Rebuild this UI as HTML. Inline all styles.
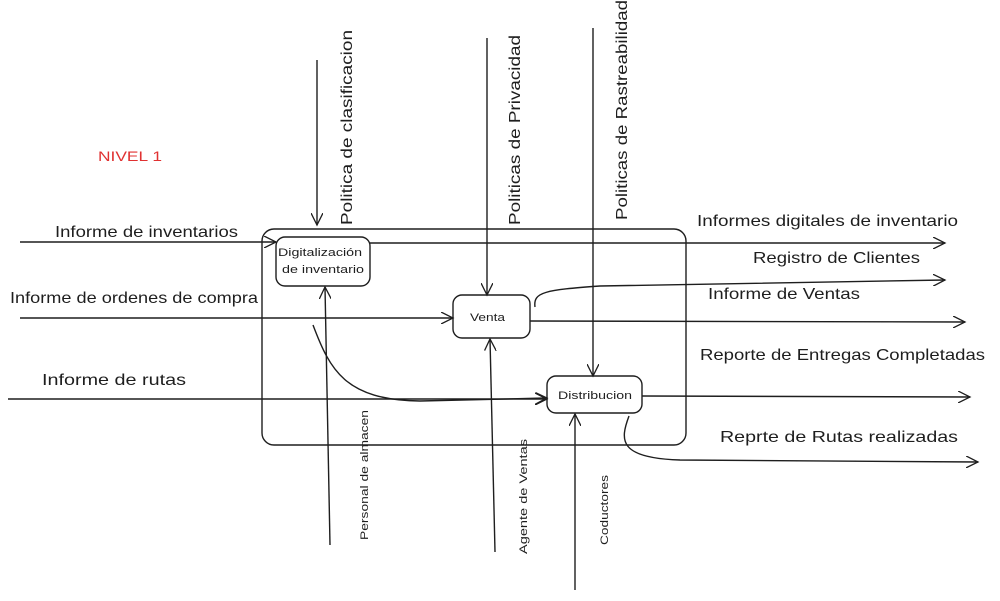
<!DOCTYPE html>
<html><head><meta charset="utf-8"><style>
html,body{margin:0;padding:0;background:#fff;}
svg text{font-family:"Liberation Sans",sans-serif;fill:#1e1e1e;}
</style></head><body>
<svg width="1000" height="596" viewBox="0 0 1000 596" xmlns="http://www.w3.org/2000/svg">
<defs>
<marker id="a" markerWidth="14" markerHeight="12" refX="12" refY="6" orient="auto" markerUnits="userSpaceOnUse">
<path d="M0,0 L12,6 L0,12" fill="none" stroke="#1e1e1e" stroke-width="1.3"/>
</marker>
</defs>
<g fill="none" stroke="#1e1e1e" stroke-width="1.4">
<rect x="262" y="229" width="424" height="216" rx="12"/>
<rect x="276" y="237" width="94" height="49" rx="9"/>
<rect x="453" y="295" width="77" height="43" rx="9"/>
<rect x="547" y="376" width="95" height="37" rx="9"/>
<path d="M20,242 L276,242" marker-end="url(#a)"/>
<path d="M370,243 L945,243" marker-end="url(#a)"/>
<path d="M535,307 C533,292 545,290 600,286 L945,280" marker-end="url(#a)"/>
<path d="M530,321 L965,322" marker-end="url(#a)"/>
<path d="M642,396 L970,397" marker-end="url(#a)"/>
<path d="M629,416 C620,440 618,458 680,460 L978,462" marker-end="url(#a)"/>
<path d="M20,318 L453,318" marker-end="url(#a)"/>
<path d="M8,399 L547,399" marker-end="url(#a)"/>
<path d="M313,325 C330,370 345,400 420,401 L547,398" marker-end="url(#a)"/>
<path d="M330,545 L325,287" marker-end="url(#a)"/>
<path d="M495,552 L490,339" marker-end="url(#a)"/>
<path d="M575,590 L575,414" marker-end="url(#a)"/>
<path d="M317,60 L317,225" marker-end="url(#a)"/>
<path d="M487,38 L487,295" marker-end="url(#a)"/>
<path d="M593,28 L593,376" marker-end="url(#a)"/>
</g>
<g lengthAdjust="spacingAndGlyphs">
<text x="98" y="161" font-size="14" textLength="64" lengthAdjust="spacingAndGlyphs" style="fill:#e03131">NIVEL 1</text>
<text x="55" y="237" font-size="16" textLength="183" lengthAdjust="spacingAndGlyphs">Informe de inventarios</text>
<text x="10" y="303" font-size="16" textLength="248" lengthAdjust="spacingAndGlyphs">Informe de ordenes de compra</text>
<text x="42" y="385" font-size="16" textLength="144" lengthAdjust="spacingAndGlyphs">Informe de rutas</text>
<text x="697" y="226" font-size="16" textLength="261" lengthAdjust="spacingAndGlyphs">Informes digitales de inventario</text>
<text x="753" y="263" font-size="16" textLength="167" lengthAdjust="spacingAndGlyphs">Registro de Clientes</text>
<text x="708" y="299" font-size="16" textLength="152" lengthAdjust="spacingAndGlyphs">Informe de Ventas</text>
<text x="700" y="360" font-size="16" textLength="285" lengthAdjust="spacingAndGlyphs">Reporte de Entregas Completadas</text>
<text x="720" y="442" font-size="16" textLength="238" lengthAdjust="spacingAndGlyphs">Reprte de Rutas realizadas</text>
<text x="278" y="256" font-size="11" textLength="84" lengthAdjust="spacingAndGlyphs">Digitalización</text>
<text x="282" y="273" font-size="11" textLength="82" lengthAdjust="spacingAndGlyphs">de inventario</text>
<text x="470" y="321" font-size="11" textLength="35" lengthAdjust="spacingAndGlyphs">Venta</text>
<text x="558" y="399" font-size="11" textLength="74" lengthAdjust="spacingAndGlyphs">Distribucion</text>
<text transform="translate(352,225) rotate(-90)" font-size="16" textLength="195" lengthAdjust="spacingAndGlyphs">Politica de clasificacion</text>
<text transform="translate(520,225) rotate(-90)" font-size="16" textLength="190" lengthAdjust="spacingAndGlyphs">Politicas de Privacidad</text>
<text transform="translate(627,220) rotate(-90)" font-size="16" textLength="220" lengthAdjust="spacingAndGlyphs">Politicas de Rastreabilidad</text>
<text transform="translate(368,540) rotate(-90)" font-size="11" textLength="130" lengthAdjust="spacingAndGlyphs">Personal de almacen</text>
<text transform="translate(527,554) rotate(-90)" font-size="11" textLength="115" lengthAdjust="spacingAndGlyphs">Agente de Ventas</text>
<text transform="translate(608,545) rotate(-90)" font-size="11" textLength="70" lengthAdjust="spacingAndGlyphs">Coductores</text>
</g>
</svg>
</body></html>
